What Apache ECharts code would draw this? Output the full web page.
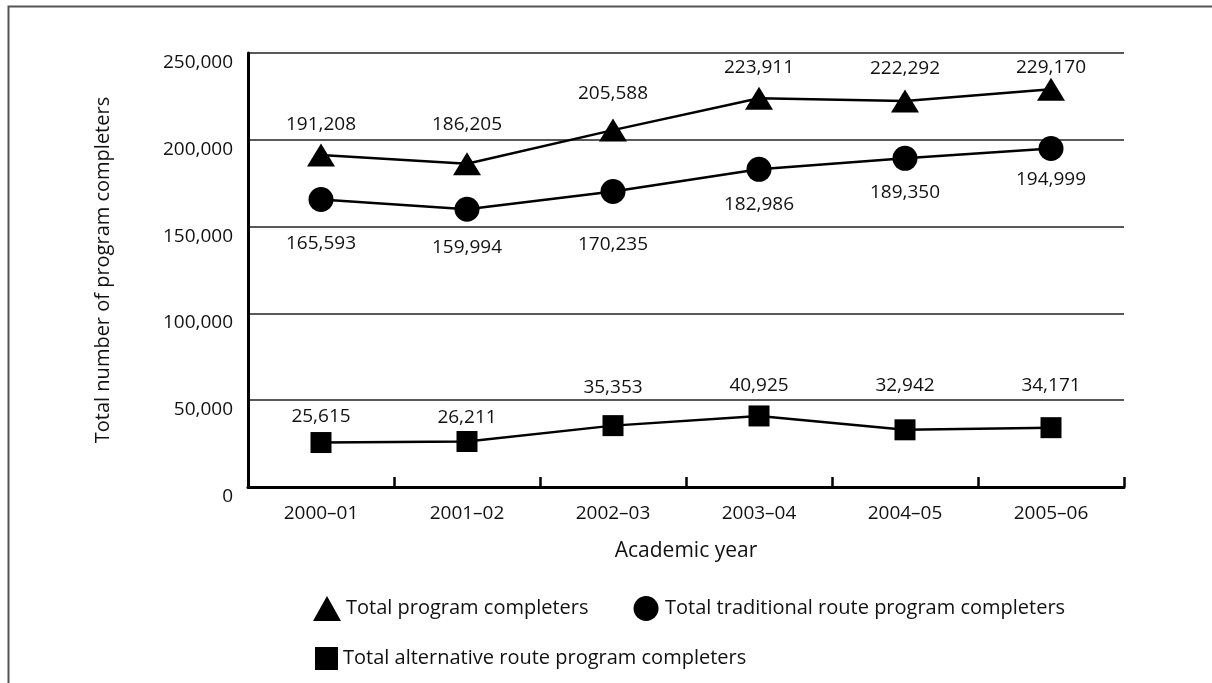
<!DOCTYPE html>
<html>
<head>
<meta charset="utf-8">
<script src="https://cdn.jsdelivr.net/npm/echarts@6/dist/echarts.min.js"></script>
<style>
html,body{margin:0;padding:0;background:#fff;}
#chart{width:1212px;height:683px;}
</style>
</head>
<body>
<div id="chart"></div>
<script>
var categories = ['2000–01', '2001–02', '2002–03', '2003–04', '2004–05', '2005–06'];
var totalCompleters = [191208, 186205, 205588, 223911, 222292, 229170];
var traditionalCompleters = [165593, 159994, 170235, 182986, 189350, 194999];
var alternativeCompleters = [25615, 26211, 35353, 40925, 32942, 34171];
var yTicks = [0, 50000, 100000, 150000, 200000, 250000];
var seriesNames = ['Total program completers', 'Total traditional route program completers', 'Total alternative route program completers'];

var FONT = '"Open Sans", "Noto Sans", sans-serif';
function fmt(v) { return Number(v).toLocaleString('en-US'); }

// label styling: per-point label distances (px) as placed in the original
var totalLabelGap = [9, 18, 16, 10, 12, 1];
var tradLabelGap = [22, 16, 31, 13, 12, 9];
var altLabelGap = [6, 4, 18, 10, 24, 22];

function withLabels(values, gaps) {
  return values.map(function (v, i) {
    return { value: v, label: { distance: gaps[i] } };
  });
}

var chart = echarts.init(document.getElementById('chart'));
var labelBase = { show: true, color: '#111', fontFamily: FONT, fontSize: 19, formatter: function (p) { return fmt(p.value); } };

var option = {
  backgroundColor: '#fff',
  animation: false,
  textStyle: { fontFamily: FONT, color: '#111' },
  graphic: [{
    type: 'rect', left: 6, top: 4, silent: true,
    shape: { x: 0, y: 0, width: 1300, height: 800 },
    style: { fill: 'none', stroke: '#555', lineWidth: 2 }
  }],
  grid: { left: 248, right: 88, top: 53, bottom: 196, containLabel: false },
  legend: [{
    data: [
      { name: seriesNames[0], icon: 'triangle' },
      { name: seriesNames[1], icon: 'circle' }
    ],
    left: 308, top: 591, orient: 'horizontal',
    itemWidth: 28, itemHeight: 25, itemGap: 45, symbolKeepAspect: false,
    textStyle: { fontFamily: FONT, fontSize: 20, color: '#111' }
  }, {
    data: [{ name: seriesNames[2], icon: 'rect' }],
    left: 310, top: 642, orient: 'horizontal',
    itemWidth: 23, itemHeight: 23, symbolKeepAspect: false,
    textStyle: { fontFamily: FONT, fontSize: 20, color: '#111' }
  }],
  xAxis: {
    type: 'category', data: categories, boundaryGap: true,
    name: 'Academic year', nameLocation: 'middle', nameGap: 54,
    nameTextStyle: { fontFamily: FONT, fontSize: 21, color: '#111' },
    axisLine: { show: true, lineStyle: { color: '#000', width: 3 } },
    axisTick: { show: true, inside: true, length: 10, interval: 0, lineStyle: { color: '#000', width: 2.5 } },
    axisLabel: { fontFamily: FONT, fontSize: 19, color: '#111', margin: 17, interval: 0 },
    splitLine: { show: false }
  },
  yAxis: {
    type: 'value', min: yTicks[0], max: yTicks[yTicks.length - 1], interval: yTicks[1] - yTicks[0],
    name: 'Total number of program completers', nameLocation: 'middle', nameGap: 135, nameRotate: 90,
    nameTextStyle: { fontFamily: FONT, fontSize: 20, color: '#111' },
    axisLine: { show: true, lineStyle: { color: '#000', width: 3 } },
    axisTick: { show: false },
    axisLabel: { fontFamily: FONT, fontSize: 19, color: '#111', margin: 15, verticalAlign: 'top', formatter: function (v) { return fmt(v); } },
    splitLine: { show: true, lineStyle: { color: '#222', width: 1.5 } }
  },
  series: [{
    name: seriesNames[0], type: 'line', data: withLabels(totalCompleters, totalLabelGap),
    symbol: 'triangle', symbolSize: [28, 23], showAllSymbol: true,
    lineStyle: { color: '#000', width: 2.5 }, itemStyle: { color: '#000' },
    label: Object.assign({}, labelBase, { position: 'top' }),
    z: 5
  }, {
    name: seriesNames[1], type: 'line', data: withLabels(traditionalCompleters, tradLabelGap),
    symbol: 'circle', symbolSize: 25, showAllSymbol: true,
    lineStyle: { color: '#000', width: 2.5 }, itemStyle: { color: '#000' },
    label: Object.assign({}, labelBase, { position: 'bottom' }),
    z: 5
  }, {
    name: seriesNames[2], type: 'line', data: withLabels(alternativeCompleters, altLabelGap),
    symbol: 'rect', symbolSize: 21, showAllSymbol: true,
    lineStyle: { color: '#000', width: 2.5 }, itemStyle: { color: '#000' },
    label: Object.assign({}, labelBase, { position: 'top' }),
    z: 5
  }]
};
chart.setOption(option);
</script>
</body>
</html>
